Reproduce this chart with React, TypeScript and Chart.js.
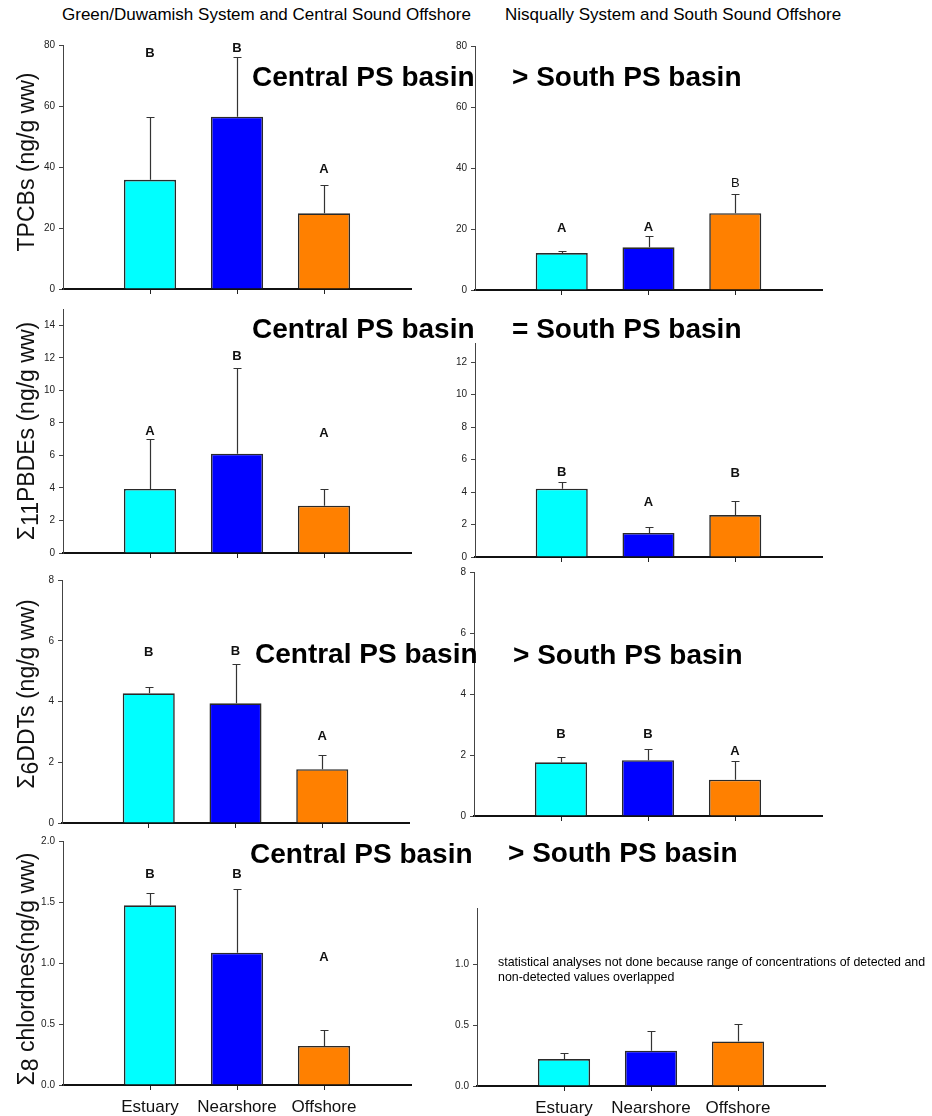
import React, { useEffect, useRef } from 'react';
import { Chart, registerables } from 'chart.js';

Chart.register(...registerables);
Chart.defaults.font.family = '"Liberation Sans", Arial, sans-serif';

// ---------- data ----------
const categories = ['Estuary', 'Nearshore', 'Offshore'];
const barColors = ['#00FFFF', '#0000FF', '#FF8000'];

// TPCBs
const tpcbCentralMean = [35.8, 56.5, 24.8];
const tpcbCentralErr = [20.7, 19.7, 9.2];
const tpcbCentralLetters = ['B', 'B', 'A'];
const tpcbCentralLetterAt = [77.1, 78.9, 39.2];
const tpcbSouthMean = [12.1, 14.0, 25.2];
const tpcbSouthErr = [0.8, 3.6, 6.4];
const tpcbSouthLetters = ['A', 'A', 'B'];
const tpcbSouthLetterAt = [20.2, 20.5, 35.0];
const tpcbSouthLetterBold = [true, true, false];
const tpcbTicks = [0, 20, 40, 60, 80];

// PBDEs
const pbdeCentralMean = [3.94, 6.1, 2.91];
const pbdeCentralErr = [3.08, 5.25, 1.03];
const pbdeCentralLetters = ['A', 'B', 'A'];
const pbdeCentralLetterAt = [7.45, 12.1, 7.35];
const pbdeSouthMean = [4.2, 1.48, 2.58];
const pbdeSouthErr = [0.39, 0.34, 0.84];
const pbdeSouthLetters = ['B', 'A', 'B'];
const pbdeSouthLetterAt = [5.23, 3.38, 5.13];
const pbdeCentralTicks = [0, 2, 4, 6, 8, 10, 12, 14];
const pbdeSouthTicks = [0, 2, 4, 6, 8, 10, 12];

// DDTs
const ddtCentralMean = [4.27, 3.94, 1.77];
const ddtCentralErr = [0.21, 1.28, 0.47];
const ddtCentralLetters = ['B', 'B', 'A'];
const ddtCentralLetterAt = [5.6, 5.64, 2.84];
const ddtSouthMean = [1.76, 1.83, 1.19];
const ddtSouthErr = [0.17, 0.36, 0.62];
const ddtSouthLetters = ['B', 'B', 'A'];
const ddtSouthLetterAt = [2.66, 2.66, 2.11];
const ddtTicks = [0, 2, 4, 6, 8];

// Chlordanes
const chlCentralMean = [1.473, 1.085, 0.32];
const chlCentralErr = [0.098, 0.519, 0.128];
const chlCentralLetters = ['B', 'B', 'A'];
const chlCentralLetterAt = [1.73, 1.73, 1.043];
const chlSouthMean = [0.222, 0.29, 0.367];
const chlSouthErr = [0.049, 0.159, 0.142];
const chlCentralTicks = [0, 0.5, 1.0, 1.5, 2.0];
const chlSouthTicks = [0, 0.5, 1.0];

// texts
const headerLeft = 'Green/Duwamish System and Central Sound Offshore';
const headerRight = 'Nisqually System and South Sound Offshore';
const basinLeft = 'Central PS basin';
const basinRight = ['> South PS basin', '= South PS basin', '> South PS basin', '> South PS basin'];
const noteLines = [
  'statistical analyses not done because range of concentrations of detected and',
  'non-detected values overlapped',
];

type Seg = { t: string; sub?: boolean };
type PanelCfg = {
  side: 'left' | 'right';
  area: { l: number; r: number; t: number; b: number };
  max: number;
  ticks: number[];
  decimals: number;
  mean: number[];
  err: number[];
  letters?: string[];
  letterAt?: number[];
  letterBold?: boolean[];
  title?: Seg[];
  titleY?: number;
  bottom: boolean;
};

const panels: PanelCfg[] = [
  {
    side: 'left', area: { l: 63, r: 411, t: 45, b: 289 }, max: 80, ticks: tpcbTicks, decimals: 0,
    mean: tpcbCentralMean, err: tpcbCentralErr, letters: tpcbCentralLetters, letterAt: tpcbCentralLetterAt,
    title: [{ t: 'TPCBs (ng/g ww)' }], titleY: 162, bottom: false,
  },
  {
    side: 'right', area: { l: 475, r: 822, t: 46, b: 290 }, max: 80, ticks: tpcbTicks, decimals: 0,
    mean: tpcbSouthMean, err: tpcbSouthErr, letters: tpcbSouthLetters, letterAt: tpcbSouthLetterAt,
    letterBold: tpcbSouthLetterBold, bottom: false,
  },
  {
    side: 'left', area: { l: 63, r: 411, t: 309, b: 553 }, max: 15, ticks: pbdeCentralTicks, decimals: 0,
    mean: pbdeCentralMean, err: pbdeCentralErr, letters: pbdeCentralLetters, letterAt: pbdeCentralLetterAt,
    title: [{ t: 'Σ' }, { t: '11', sub: true }, { t: 'PBDEs (ng/g ww)' }], titleY: 431, bottom: false,
  },
  {
    side: 'right', area: { l: 475, r: 822, t: 343, b: 557 }, max: 13.17, ticks: pbdeSouthTicks, decimals: 0,
    mean: pbdeSouthMean, err: pbdeSouthErr, letters: pbdeSouthLetters, letterAt: pbdeSouthLetterAt, bottom: false,
  },
  {
    side: 'left', area: { l: 62, r: 409, t: 580, b: 823 }, max: 8, ticks: ddtTicks, decimals: 0,
    mean: ddtCentralMean, err: ddtCentralErr, letters: ddtCentralLetters, letterAt: ddtCentralLetterAt,
    title: [{ t: 'Σ' }, { t: '6', sub: true }, { t: 'DDTs (ng/g ww)' }], titleY: 694, bottom: false,
  },
  {
    side: 'right', area: { l: 474, r: 822, t: 572, b: 816 }, max: 8, ticks: ddtTicks, decimals: 0,
    mean: ddtSouthMean, err: ddtSouthErr, letters: ddtSouthLetters, letterAt: ddtSouthLetterAt, bottom: false,
  },
  {
    side: 'left', area: { l: 63, r: 411, t: 841, b: 1085 }, max: 2, ticks: chlCentralTicks, decimals: 1,
    mean: chlCentralMean, err: chlCentralErr, letters: chlCentralLetters, letterAt: chlCentralLetterAt,
    title: [{ t: 'Σ' }, { t: '8', sub: true }, { t: ' chlordnes(ng/g ww)' }], titleY: 969, bottom: true,
  },
  {
    side: 'right', area: { l: 477, r: 825, t: 908, b: 1086 }, max: 1.465, ticks: chlSouthTicks, decimals: 1,
    mean: chlSouthMean, err: chlSouthErr, bottom: true,
  },
];

const PAD_TOP = 12;

function geom(p: PanelCfg) {
  const canvasLeft = p.side === 'left' ? 0 : 440;
  const canvasW = p.side === 'left' ? 440 : 492;
  const yw = p.area.l - canvasLeft;
  const rp = canvasLeft + canvasW - p.area.r;
  const xh = p.bottom ? 1116 - p.area.b : 10;
  const canvasTop = p.area.t - PAD_TOP;
  const canvasH = PAD_TOP + (p.area.b - p.area.t) + xh;
  return { canvasLeft, canvasW, yw, rp, xh, canvasTop, canvasH };
}

function Panel({ p }: { p: PanelCfg }) {
  const ref = useRef<HTMLCanvasElement>(null);
  const g = geom(p);
  useEffect(() => {
    const canvas = ref.current;
    if (!canvas) return;
    const labels = ['', ...categories, ''];
    const extras = {
      id: 'panelExtras',
      afterDatasetsDraw(chart: any) {
        const ctx = chart.ctx as CanvasRenderingContext2D;
        const ys = chart.scales.y;
        const meta = chart.getDatasetMeta(0);
        ctx.save();
        // error bars (upper only)
        p.mean.forEach((m, i) => {
          const bar = meta.data[i + 1];
          const x = Math.round(bar.x) + 0.5;
          const y0 = ys.getPixelForValue(m);
          const y1 = Math.round(ys.getPixelForValue(m + p.err[i])) + 0.5;
          ctx.strokeStyle = '#333';
          ctx.lineWidth = 1.2;
          ctx.beginPath();
          ctx.moveTo(x, y0);
          ctx.lineTo(x, y1);
          ctx.moveTo(x - 4, y1);
          ctx.lineTo(x + 4, y1);
          ctx.stroke();
        });
        // significance letters
        if (p.letters && p.letterAt) {
          ctx.fillStyle = '#111';
          ctx.textAlign = 'center';
          ctx.textBaseline = 'middle';
          p.letters.forEach((L, i) => {
            const bold = p.letterBold ? p.letterBold[i] : true;
            ctx.font = `${bold ? 'bold ' : ''}13px "Liberation Sans", Arial, sans-serif`;
            const bar = meta.data[i + 1];
            ctx.fillText(L, bar.x, ys.getPixelForValue(p.letterAt![i]));
          });
        }
        // y-axis title
        if (p.title) {
          ctx.font = '23px "Liberation Sans", Arial, sans-serif';
          ctx.fillStyle = '#111';
          ctx.textAlign = 'left';
          ctx.textBaseline = 'alphabetic';
          const widths = p.title.map((s) => ctx.measureText(s.t).width);
          const total = widths.reduce((a, b) => a + b, 0);
          ctx.translate(34 - g.canvasLeft, (p.titleY as number) - g.canvasTop);
          ctx.rotate(-Math.PI / 2);
          let x = -total / 2;
          p.title.forEach((s, i) => {
            ctx.fillText(s.t, x, s.sub ? 4 : 0);
            x += widths[i];
          });
        }
        ctx.restore();
      },
    };
    const chart = new Chart(canvas, {
      type: 'bar',
      data: {
        labels,
        datasets: [
          {
            data: [null, ...p.mean, null],
            backgroundColor: ['rgba(0,0,0,0)', ...barColors, 'rgba(0,0,0,0)'],
            borderColor: '#2a2a2a',
            borderWidth: 1.6,
            barPercentage: 0.6,
            categoryPercentage: 1.0,
          },
        ],
      },
      options: {
        responsive: false,
        animation: false,
        devicePixelRatio: 1,
        layout: { padding: { top: PAD_TOP, right: g.rp, left: 0, bottom: 0 } },
        plugins: { legend: { display: false }, tooltip: { enabled: false }, title: { display: false } },
        scales: {
          x: {
            type: 'category',
            offset: false,
            grid: {
              display: true,
              drawOnChartArea: false,
              drawTicks: true,
              tickLength: 5,
              offset: false,
              lineWidth: 1,
              color: (c: any) => (c.index === 0 || c.index === 4 ? 'rgba(0,0,0,0)' : '#222'),
            },
            border: { display: true, color: '#111', width: 2 },
            ticks: {
              display: p.bottom,
              autoSkip: false,
              maxRotation: 0,
              minRotation: 0,
              padding: 7,
              color: '#111',
              font: { size: 17 },
            },
            afterFit: (s: any) => {
              s.height = g.xh;
            },
          },
          y: {
            type: 'linear',
            min: 0,
            max: p.max,
            afterBuildTicks: (s: any) => {
              s.ticks = p.ticks.map((v) => ({ value: v }));
            },
            grid: { display: true, drawOnChartArea: false, drawTicks: true, tickLength: 4, color: '#444' },
            border: { display: true, color: '#444', width: 1 },
            ticks: {
              padding: 4,
              color: '#222',
              font: { size: 10 },
              callback: (v: any) => Number(v).toFixed(p.decimals),
            },
            afterFit: (s: any) => {
              s.width = g.yw;
            },
          },
        },
      },
      plugins: [extras],
    } as any);
    return () => chart.destroy();
  }, []);
  return (
    <canvas
      ref={ref}
      width={g.canvasW}
      height={g.canvasH}
      style={{ position: 'absolute', left: g.canvasLeft, top: g.canvasTop, width: g.canvasW, height: g.canvasH }}
    />
  );
}

function Txt({ x, baseline, size, bold, children }: { x: number; baseline: number; size: number; bold?: boolean; children: any }) {
  return (
    <div
      style={{
        position: 'absolute',
        left: x,
        top: baseline - 0.8465 * size,
        fontSize: size,
        lineHeight: `${size}px`,
        fontWeight: bold ? 'bold' : 'normal',
        fontFamily: '"Liberation Sans", Arial, sans-serif',
        whiteSpace: 'nowrap',
        color: '#000',
        margin: 0,
      }}
    >
      {children}
    </div>
  );
}

const basinRows = [
  { lx: 252, lb: 87, rx: 512, rb: 87 },
  { lx: 252, lb: 339, rx: 512, rb: 339 },
  { lx: 255, lb: 664, rx: 513, rb: 665 },
  { lx: 250, lb: 864, rx: 508, rb: 863 },
];

export default function App() {
  return (
    <div style={{ position: 'absolute', left: 0, top: 0, width: 932, height: 1116, background: '#fff', overflow: 'hidden' }}>
      {panels.map((p, i) => (
        <Panel key={i} p={p} />
      ))}
      <Txt x={62} baseline={20} size={17}>{headerLeft}</Txt>
      <Txt x={505} baseline={20} size={17}>{headerRight}</Txt>
      {basinRows.map((r, i) => (
        <React.Fragment key={i}>
          <Txt x={r.lx} baseline={r.lb} size={28} bold>{basinLeft}</Txt>
          <Txt x={r.rx} baseline={r.rb} size={28} bold>{basinRight[i]}</Txt>
        </React.Fragment>
      ))}
      <Txt x={498} baseline={966.5} size={12.4}>{noteLines[0]}</Txt>
      <Txt x={498} baseline={981.5} size={12.4}>{noteLines[1]}</Txt>
    </div>
  );
}
